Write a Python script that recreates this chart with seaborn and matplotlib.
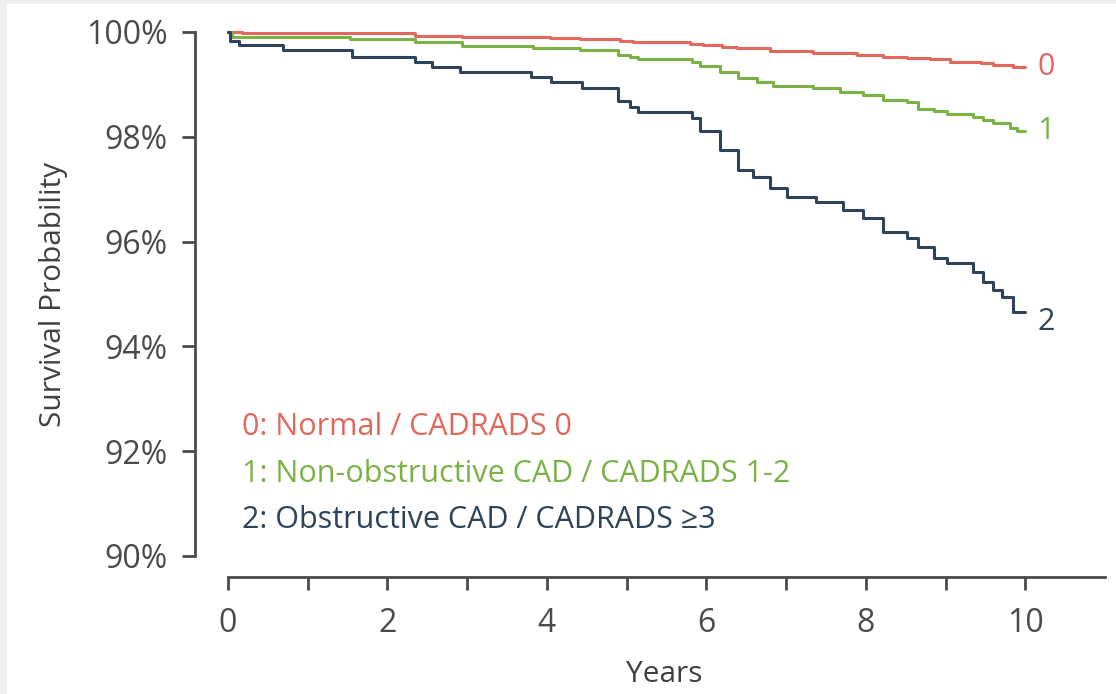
import numpy as np
import pandas as pd
import matplotlib
matplotlib.use("Agg")
import matplotlib.pyplot as plt
from matplotlib.patches import Rectangle
import seaborn as sns

# ---- data ----
groups = ["0", "1", "2"]
legend_labels = ["0: Normal / CADRADS 0",
                 "1: Non-obstructive CAD / CADRADS 1-2",
                 "2: Obstructive CAD / CADRADS \u22653"]

t0 = [0.00, 0.18, 2.35, 2.94, 4.04, 4.42, 4.92, 5.08, 5.80, 5.96, 6.20, 6.39,
      6.80, 7.34, 7.89, 8.22, 8.52, 8.81, 9.06, 9.44, 9.60, 9.85, 10.00]
s0 = [100.00, 99.98, 99.93, 99.90, 99.88, 99.86, 99.83, 99.81, 99.78, 99.75, 99.72, 99.69,
      99.64, 99.59, 99.57, 99.53, 99.51, 99.48, 99.43, 99.40, 99.37, 99.34, 99.34]

t1 = [0.00, 0.05, 1.53, 2.35, 2.94, 3.82, 4.42, 4.89, 5.04, 5.14, 5.82, 5.92,
      6.17, 6.40, 6.64, 6.83, 7.34, 7.68, 7.97, 8.22, 8.52, 8.66, 8.85, 9.02,
      9.35, 9.47, 9.60, 9.81, 9.90, 10.00]
s1 = [100.00, 99.91, 99.87, 99.80, 99.74, 99.70, 99.66, 99.57, 99.53, 99.48, 99.43, 99.36,
      99.24, 99.12, 99.04, 98.97, 98.93, 98.86, 98.80, 98.70, 98.66, 98.54, 98.49, 98.43,
      98.38, 98.32, 98.26, 98.16, 98.11, 98.11]

t2 = [0.00, 0.02, 0.14, 0.69, 1.56, 2.35, 2.56, 2.91, 3.80, 4.05, 4.44, 4.89,
      5.04, 5.14, 5.82, 5.92, 6.17, 6.40, 6.59, 6.80, 7.01, 7.37, 7.72, 7.97,
      8.22, 8.52, 8.66, 8.85, 9.02, 9.35, 9.47, 9.60, 9.71, 9.84, 10.00]
s2 = [100.00, 99.82, 99.75, 99.66, 99.52, 99.43, 99.33, 99.24, 99.14, 99.05, 98.93, 98.68,
      98.57, 98.47, 98.36, 98.11, 97.75, 97.37, 97.23, 97.02, 96.85, 96.76, 96.60, 96.45,
      96.18, 96.07, 95.90, 95.69, 95.59, 95.42, 95.23, 95.08, 94.94, 94.66, 94.66]

x_ticks = [0, 2, 4, 6, 8, 10]
y_ticks = [90, 92, 94, 96, 98, 100]
y_tick_labels = ["90%", "92%", "94%", "96%", "98%", "100%"]

colors = {"0": "#e2685c", "1": "#7bb246", "2": "#2e4359"}

df = pd.concat([
    pd.DataFrame({"years": t0, "surv": s0, "group": "0"}),
    pd.DataFrame({"years": t1, "surv": s1, "group": "1"}),
    pd.DataFrame({"years": t2, "surv": s2, "group": "2"}),
], ignore_index=True)

# ---- style ----
sns.set_style("ticks")
plt.rcParams["font.family"] = ["Open Sans", "DejaVu Sans"]

DPI = 100
fig = plt.figure(figsize=(11.16, 6.94), dpi=DPI, facecolor="#efefef")
fig.patches.append(Rectangle((7 / 1116, 0), 1, (694 - 4) / 694,
                             transform=fig.transFigure, facecolor="white",
                             edgecolor="none", zorder=-10))

ax = fig.add_axes([228 / 1116, (694 - 556) / 694, 877 / 1116, 524 / 694])
ax.set_facecolor("none")

sns.lineplot(data=df, x="years", y="surv", hue="group", palette=colors,
             drawstyle="steps-post", estimator=None, legend=False,
             linewidth=2.2, ax=ax)
for ln in ax.get_lines():
    ln.set_clip_on(False)

ax.set_xlim(0, 11)
ax.set_ylim(90, 100)

axis_col = "#4a4a4a"
for side in ["top", "right"]:
    ax.spines[side].set_visible(False)
ax.spines["left"].set_position(("outward", 33 * 72 / DPI))
ax.spines["bottom"].set_position(("outward", 21 * 72 / DPI))
for side in ["left", "bottom"]:
    ax.spines[side].set_color(axis_col)
    ax.spines[side].set_linewidth(2.0)

ax.set_xticks(range(0, 11))
ax.set_xticklabels([str(v) if v in x_ticks else "" for v in range(0, 11)])
ax.set_yticks(y_ticks)
ax.set_yticklabels(y_tick_labels)
ax.tick_params(axis="both", colors=axis_col, labelcolor="#4a4a4a",
               labelsize=23, width=2.0, length=9.5, direction="out",
               bottom=True, left=True)
ax.tick_params(axis="x", pad=12)
ax.tick_params(axis="y", pad=10.5)

ax.set_xlabel("Years", fontsize=21.5, color="#404040", fontweight="medium")
ax.set_ylabel("Survival Probability", fontsize=21.5, color="#404040", fontweight="medium")
ax.xaxis.set_label_coords(0.498, -0.198)
ax.yaxis.set_label_coords(-0.183, 0.5)

# end-of-curve labels
ends = {"0": s0[-1], "1": s1[-1], "2": s2[-1] - 0.2}
for g in groups:
    ax.text(10.15, ends[g], g, color=colors[g], fontsize=22,
            ha="left", va="center", clip_on=False)

# legend texts (baselines)
leg_y = [92.31, 91.41, 90.53]
for lab, g, yy in zip(legend_labels, groups, leg_y):
    ax.text(0.18, yy, lab, color=colors[g], fontsize=22, fontweight="medium",
            ha="left", va="baseline")

fig.savefig("out.png", dpi=DPI, facecolor=fig.get_facecolor())
